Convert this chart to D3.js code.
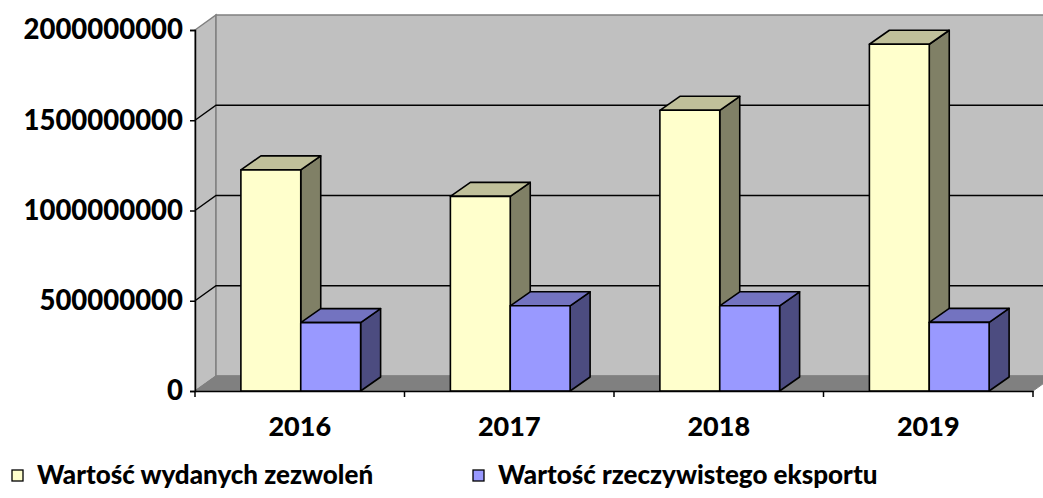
<!DOCTYPE html>
<html><head><meta charset="utf-8">
<script src="https://cdn.jsdelivr.net/npm/d3@7"></script>
<style>body{margin:0;background:#fff}svg{display:block}text{font-family:Lato,"Open Sans",sans-serif;font-weight:900;fill:#000}</style>
</head><body><svg id="c" width="1043" height="498"></svg>
<script>
const categories = ["2016","2017","2018","2019"];
const seriesNames = ["Wartość wydanych zezwoleń","Wartość rzeczywistego eksportu"];
const permits = [1225000000, 1078000000, 1555000000, 1921000000];
const exports_ = [379000000, 472000000, 472000000, 380000000];
const yTicks = [0, 500000000, 1000000000, 1500000000, 2000000000];
const seriesValues = [permits, exports_];
const colors = [
  {front:"#FFFFCC", top:"#C0C09A", side:"#808066"},
  {front:"#9999FF", top:"#7373C0", side:"#4C4C80"}
];

const svg = d3.select("#c");
const W = 1043;
const left = 195, right = 1033, y0 = 391, yTop = 30;
const dx = 21, dy = -15;       // wall depth
const bdx = 20, bdy = -14;     // bar depth

const y = d3.scaleLinear().domain([0, 2000000000]).range([y0, yTop]);
const x = d3.scaleBand().domain(categories).range([left, right]).paddingInner(0).paddingOuter(0);
const xs = d3.scaleBand().domain([0,1]).range([0, x.bandwidth()]).paddingInner(0).paddingOuter(0.75);

const poly = pts => "M" + pts.map(p => p.join(",")).join("L") + "Z";

// side wall
svg.append("path").attr("d", poly([[left, y(2e9)],[left+dx, y(2e9)+dy],[left+dx, y0+dy],[left, y0]]))
  .attr("fill", "#c0c0c0").attr("stroke", "#808080").attr("stroke-width", 1.5);
// back wall
svg.append("path").attr("d", poly([[left+dx, y(2e9)+dy],[right+dx+20, y(2e9)+dy],[right+dx+20, y0+dy],[left+dx, y0+dy]]))
  .attr("fill", "#c0c0c0").attr("stroke", "#808080").attr("stroke-width", 1.5);
// floor
svg.append("path").attr("d", poly([[left, y0],[left+dx, y0+dy],[right+dx, y0+dy],[right, y0]]))
  .attr("fill", "#808080").attr("stroke", "#808080").attr("stroke-width", 1);

// gridlines
yTicks.filter(v => v > 0 && v < 2e9).forEach(v => {
  svg.append("path").attr("d", `M${left},${y(v)}L${left+dx},${y(v)+dy}L${W+5},${y(v)+dy}`)
    .attr("fill", "none").attr("stroke", "#000").attr("stroke-width", 1.4);
});

// bars
categories.forEach((c, i) => {
  seriesValues.forEach((vals, s) => {
    const x0 = x(c) + xs(s) + 1, w = xs.bandwidth();
    const yt = y(vals[i]);
    const col = colors[s];
    const g = svg.append("g").attr("stroke", "#000").attr("stroke-width", 1.6).attr("stroke-linejoin", "round");
    g.append("path").attr("d", poly([[x0+w, yt],[x0+w+bdx, yt+bdy],[x0+w+bdx, y0+bdy],[x0+w, y0]])).attr("fill", col.side);
    g.append("path").attr("d", poly([[x0, yt],[x0+bdx, yt+bdy],[x0+w+bdx, yt+bdy],[x0+w, yt]])).attr("fill", col.top);
    g.append("rect").attr("x", x0).attr("y", yt).attr("width", w).attr("height", y0 - yt).attr("fill", col.front);
  });
});

// axes
const yAxis = d3.axisLeft(y).tickValues(yTicks).tickSize(5).tickPadding(7).tickFormat(d => String(d));
const gy = svg.append("g").attr("transform", `translate(${left},0)`).call(yAxis);
gy.select(".domain").attr("stroke", "#000").attr("stroke-width", 1.5);
gy.selectAll(".tick line").attr("stroke", "#000").attr("stroke-width", 1.5);
gy.selectAll(".tick text").attr("font-size", 27.5).attr("font-family", "Lato").attr("font-weight", 900).attr("fill", "#000");

const xAxis = d3.axisBottom(x).tickSize(0).tickPadding(26);
const gx = svg.append("g").attr("transform", `translate(0,${y0})`).call(xAxis);
gx.select(".domain").attr("stroke", "#000").attr("stroke-width", 1.5);
gx.selectAll(".tick text").attr("font-size", 27).attr("font-family", "Lato").attr("font-weight", 900).attr("fill", "#000");
// boundary ticks
categories.concat(["end"]).forEach((c, i) => {
  const xx = i < categories.length ? x(c) : right;
  svg.append("line").attr("x1", xx).attr("x2", xx).attr("y1", y0).attr("y2", y0 + 6).attr("stroke", "#000").attr("stroke-width", 1.5);
});

// legend
const legX = [12, 473];
seriesNames.forEach((n, s) => {
  svg.append("rect").attr("x", legX[s]).attr("y", 470).attr("width", 11).attr("height", 11)
    .attr("fill", colors[s].front).attr("stroke", "#000").attr("stroke-width", 1.3);
  svg.append("text").attr("x", legX[s] + 25).attr("y", 484).attr("font-size", 26).text(n);
});
</script></body></html>
